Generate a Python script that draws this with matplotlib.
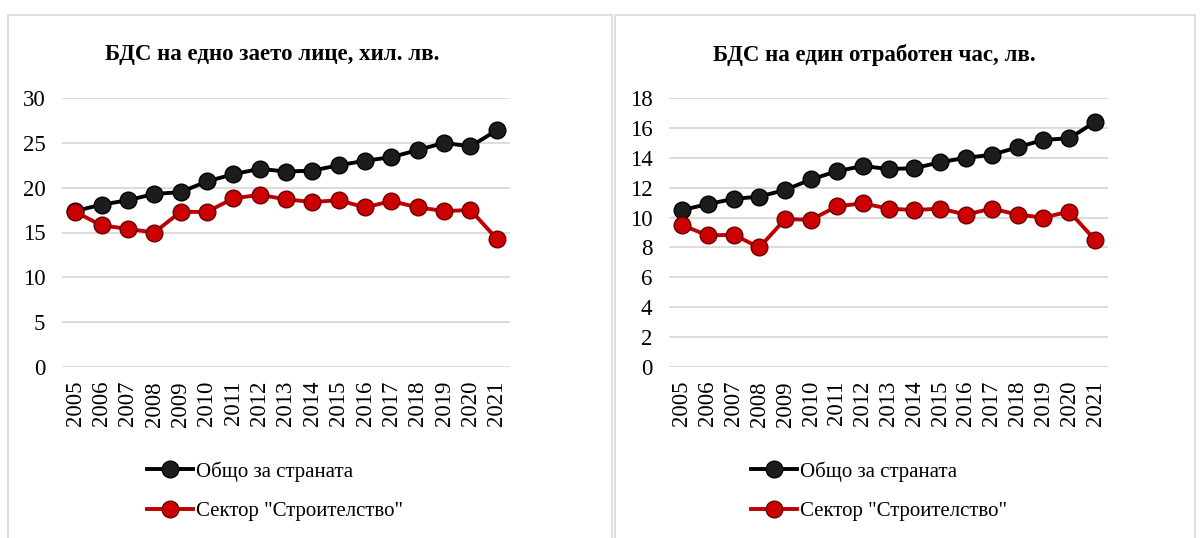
import matplotlib.pyplot as plt
from matplotlib.lines import Line2D
from matplotlib.patches import Rectangle

plt.rcParams['font.family'] = ['Liberation Serif', 'DejaVu Serif']

years = [str(y) for y in range(2005, 2022)]

# БДС на едно заето лице, хил. лв.
total_per_person = [17.4, 18.1, 18.6, 19.3, 19.5, 20.7, 21.5, 22.1, 21.8, 21.9,
                    22.5, 23.0, 23.4, 24.2, 25.0, 24.6, 26.4]
constr_per_person = [17.3, 15.8, 15.4, 15.0, 17.3, 17.3, 18.8, 19.2, 18.7, 18.4,
                     18.6, 17.8, 18.5, 17.8, 17.4, 17.5, 14.3]

# БДС на един отработен час, лв.
total_per_hour = [10.5, 10.9, 11.25, 11.4, 11.85, 12.55, 13.1, 13.45, 13.25, 13.3,
                  13.7, 14.0, 14.2, 14.7, 15.2, 15.3, 16.4]
constr_per_hour = [9.5, 8.8, 8.85, 8.0, 9.9, 9.85, 10.75, 10.95, 10.6, 10.5,
                   10.6, 10.2, 10.6, 10.2, 10.0, 10.4, 8.5]

labels = ['Общо за страната', 'Сектор "Строителство"']
lines = ['#000000', '#c00000']
faces = ['#1c1c1c', '#cc0000']
edges = ['#000000', '#6a0000']

W, H = 1203, 538
fig = plt.figure(figsize=(W / 100, H / 100), dpi=100)

# panel frames
for x0, x1 in [(8, 612), (615, 1195)]:
    fig.patches.append(Rectangle((x0 / W, -0.1), (x1 - x0) / W, 1.1 - 15 / H,
                                 transform=fig.transFigure, fill=False,
                                 edgecolor='#d9d9d9', linewidth=1.2))

panels = [
    dict(rect=[62 / W, 1 - 367 / H, 448 / W, 269 / H],
         data=[total_per_person, constr_per_person], ymax=30, step=5,
         title='БДС на едно заето лице, хил. лв.', tx=272, lx=147),
    dict(rect=[669 / W, 1 - 367 / H, 439 / W, 269 / H],
         data=[total_per_hour, constr_per_hour], ymax=18, step=2,
         title='БДС на един отработен час, лв.', tx=874, lx=751),
]

for p in panels:
    ax = fig.add_axes(p['rect'])
    x = range(len(years))
    for vals, c, f, e in zip(p['data'], lines, faces, edges):
        ax.plot(x, vals, color=c, linewidth=2.8, marker='o', markersize=12,
                markerfacecolor=f, markeredgecolor=e, markeredgewidth=1.0, zorder=3)
    ax.set_xlim(-0.5, len(years) - 0.5)
    ax.set_ylim(0, p['ymax'])
    ax.set_yticks(range(0, p['ymax'] + 1, p['step']))
    ax.set_xticks(list(x))
    ax.set_xticklabels(years, rotation=90, fontsize=16.5)
    ax.tick_params(axis='y', labelsize=16.5, length=0, pad=12)
    ax.tick_params(axis='x', length=0, pad=10)
    ax.grid(axis='y', color='#d9d9d9', linewidth=1.3)
    ax.set_axisbelow(True)
    for sp in ax.spines.values():
        sp.set_visible(False)
    fig.text(p['tx'] / W, 1 - 55 / H, p['title'], ha='center', va='center',
             fontsize=16.5, fontweight='bold')
    handles = [Line2D([], [], color=c, linewidth=2.8, marker='o', markersize=12,
                      markerfacecolor=f, markeredgecolor=e)
               for c, f, e in zip(lines, faces, edges)]
    fig.legend(handles, labels, loc='upper left',
               bbox_to_anchor=(p['lx'] / W, 1 - 461 / H), frameon=False,
               fontsize=15, handlelength=2.2, handletextpad=0.15,
               labelspacing=0.95, borderaxespad=0, borderpad=0)

fig.savefig('out.png', dpi=100)
